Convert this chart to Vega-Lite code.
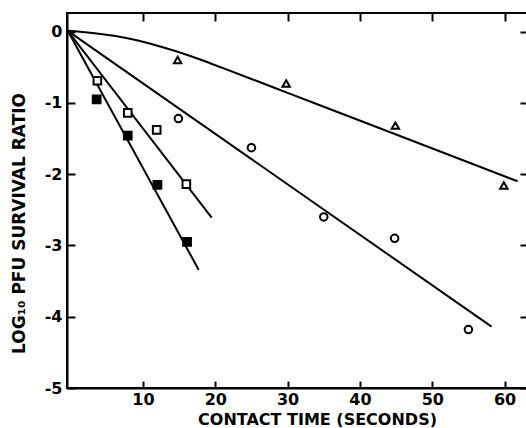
{
  "$schema": "https://vega.github.io/schema/vega-lite/v6.json",
  "autosize": {"type": "none"},
  "padding": {"left": 67, "top": 13, "right": 0, "bottom": 40},
  "width": 460,
  "height": 375,
  "background": "white",
  "config": {
    "view": {"stroke": "black", "strokeWidth": 2},
    "font": "DejaVu Sans",
    "axis": {
      "grid": false,
      "domainColor": "black",
      "domainWidth": 2,
      "tickColor": "black",
      "tickWidth": 2,
      "labelFont": "DejaVu Sans",
      "labelFontWeight": "bold",
      "labelFontSize": 16,
      "labelColor": "black",
      "titleFont": "DejaVu Sans",
      "titleFontWeight": "bold",
      "titleColor": "black"
    }
  },
  "data": {
    "values": [
      {"kind": "line", "series": "triangle", "t": -0.4, "v": 0.01, "o": 0},
      {"kind": "line", "series": "triangle", "t": 3, "v": -0.02, "o": 1},
      {"kind": "line", "series": "triangle", "t": 6, "v": -0.06, "o": 2},
      {"kind": "line", "series": "triangle", "t": 9, "v": -0.12, "o": 3},
      {"kind": "line", "series": "triangle", "t": 12, "v": -0.2, "o": 4},
      {"kind": "line", "series": "triangle", "t": 15, "v": -0.29, "o": 5},
      {"kind": "line", "series": "triangle", "t": 18, "v": -0.395, "o": 6},
      {"kind": "line", "series": "triangle", "t": 21, "v": -0.51, "o": 7},
      {"kind": "line", "series": "triangle", "t": 25, "v": -0.665, "o": 8},
      {"kind": "line", "series": "triangle", "t": 30, "v": -0.86, "o": 9},
      {"kind": "line", "series": "triangle", "t": 45, "v": -1.445, "o": 10},
      {"kind": "line", "series": "triangle", "t": 61.8, "v": -2.1, "o": 11},
      {"kind": "line", "series": "circle", "t": -0.4, "v": 0.01, "o": 0},
      {"kind": "line", "series": "circle", "t": 58.2, "v": -4.14, "o": 1},
      {"kind": "line", "series": "open square", "t": -0.4, "v": 0.01, "o": 0},
      {"kind": "line", "series": "open square", "t": 19.5, "v": -2.61, "o": 1},
      {"kind": "line", "series": "filled square", "t": -0.4, "v": 0.01, "o": 0},
      {"kind": "line", "series": "filled square", "t": 17.7, "v": -3.34, "o": 1},
      {"kind": "point", "series": "triangle", "t": 14.8, "v": -0.4},
      {"kind": "point", "series": "triangle", "t": 29.8, "v": -0.73},
      {"kind": "point", "series": "triangle", "t": 44.9, "v": -1.32},
      {"kind": "point", "series": "triangle", "t": 59.9, "v": -2.16},
      {"kind": "point", "series": "circle", "t": 14.9, "v": -1.22},
      {"kind": "point", "series": "circle", "t": 25.0, "v": -1.63},
      {"kind": "point", "series": "circle", "t": 35.0, "v": -2.6},
      {"kind": "point", "series": "circle", "t": 44.8, "v": -2.9},
      {"kind": "point", "series": "circle", "t": 55.0, "v": -4.18},
      {"kind": "point", "series": "open square", "t": 3.7, "v": -0.69},
      {"kind": "point", "series": "open square", "t": 7.9, "v": -1.14},
      {"kind": "point", "series": "open square", "t": 11.9, "v": -1.38},
      {"kind": "point", "series": "open square", "t": 16.0, "v": -2.14},
      {"kind": "point", "series": "filled square", "t": 3.6, "v": -0.95},
      {"kind": "point", "series": "filled square", "t": 7.9, "v": -1.46},
      {"kind": "point", "series": "filled square", "t": 12.0, "v": -2.15},
      {"kind": "point", "series": "filled square", "t": 16.1, "v": -2.95}
    ]
  },
  "layer": [
    {
      "transform": [{"filter": "datum.kind == 'line'"}],
      "mark": {"type": "line", "color": "black", "strokeWidth": 2, "interpolate": "monotone", "clip": true},
      "encoding": {
        "x": {
          "field": "t", "type": "quantitative",
          "scale": {"domain": [-0.5, 63.1], "nice": false, "zero": false},
          "axis": {
            "orient": "bottom",
            "values": [10, 20, 30, 40, 50, 60],
            "tickSize": -7,
            "labelPadding": 10,
            "title": "CONTACT TIME (SECONDS)",
            "titleFontSize": 16,
            "titleX": 250,
            "titleY": 31,
            "titleAnchor": null,
            "titleAlign": "center",
            "titleBaseline": "middle"
          }
        },
        "y": {
          "field": "v", "type": "quantitative",
          "scale": {"domain": [-5, 0.26], "nice": false, "zero": false},
          "axis": {
            "orient": "left",
            "values": [0, -1, -2, -3, -4, -5],
            "tickSize": -8,
            "labelPadding": 13,
            "labelExpr": "datum.value == 0 ? '0' : '-' + format(-datum.value, 'd')",
            "title": "LOG₁₀ PFU SURVIVAL RATIO",
            "titleFontSize": 17,
            "titleX": -48,
            "titleY": 210,
            "titleAngle": -90,
            "titleAlign": "center",
            "titleBaseline": "middle"
          }
        },
        "detail": {"field": "series"},
        "order": {"field": "o", "type": "quantitative"}
      }
    },
    {
      "transform": [{"filter": "datum.kind == 'point'"}],
      "mark": {"type": "point", "stroke": "black", "strokeWidth": 2, "opacity": 1, "filled": false},
      "encoding": {
        "x": {
          "field": "t", "type": "quantitative",
          "axis": {"orient": "top", "values": [10, 20, 30, 40, 50, 60], "tickSize": -8, "labels": false, "domain": false, "title": null}
        },
        "y": {
          "field": "v", "type": "quantitative",
          "axis": {"orient": "right", "values": [0, -1, -2, -3, -4, -5], "tickSize": -7, "labels": false, "domain": false, "title": null}
        },
        "shape": {
          "field": "series", "type": "nominal",
          "scale": {"domain": ["triangle", "circle", "open square", "filled square"], "range": ["triangle-up", "circle", "square", "square"]},
          "legend": null
        },
        "fill": {
          "field": "series", "type": "nominal",
          "scale": {"domain": ["triangle", "circle", "open square", "filled square"], "range": ["white", "white", "white", "black"]},
          "legend": null
        },
        "size": {
          "field": "series", "type": "nominal",
          "scale": {"domain": ["triangle", "circle", "open square", "filled square"], "range": [55, 60, 60, 75]},
          "legend": null
        }
      }
    }
  ],
  "resolve": {"axis": {"x": "independent", "y": "independent"}}
}
